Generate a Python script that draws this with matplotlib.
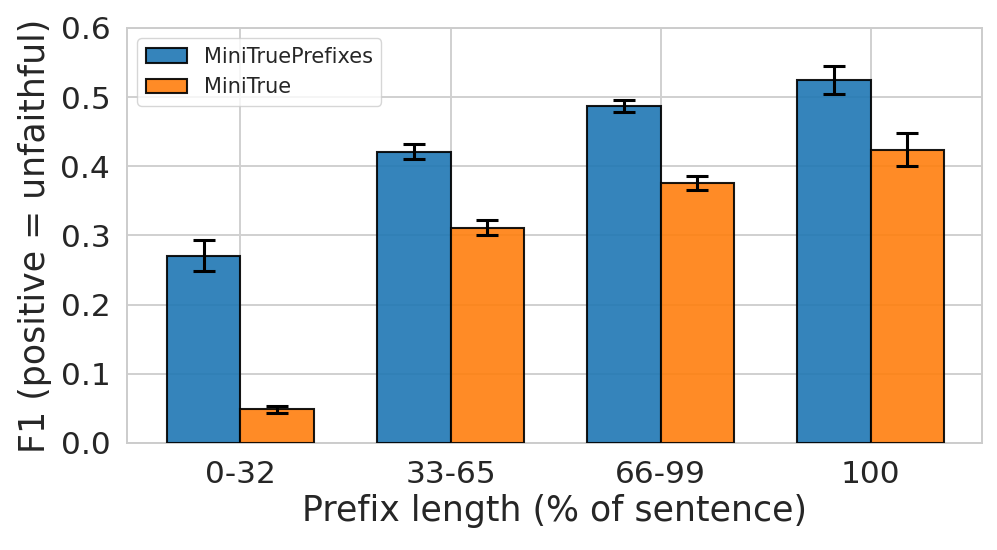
import matplotlib
matplotlib.use("Agg")
import matplotlib.pyplot as plt
import numpy as np
import seaborn as sns

sns.set_theme(style="whitegrid")
plt.rcParams['font.family'] = ['DejaVu Sans']

categories = ["0-32", "33-65", "66-99", "100"]
prefixes_vals = [0.271, 0.421, 0.487, 0.525]
prefixes_err = [0.022, 0.011, 0.009, 0.020]
minitrue_vals = [0.049, 0.311, 0.376, 0.424]
minitrue_err = [0.005, 0.011, 0.0095, 0.024]
series_names = ["MiniTruePrefixes", "MiniTrue"]
yticks = [0.0, 0.1, 0.2, 0.3, 0.4, 0.5, 0.6]

fig = plt.figure(figsize=(9.97, 5.5), dpi=100)
ax = fig.add_axes([127/997, 1-443/550, (982-127)/997, (443-28)/550])

x = np.arange(len(categories))
w = 0.35
ax.bar(x - w/2, prefixes_vals, w, yerr=prefixes_err, color="#1f77b4", alpha=0.9,
       edgecolor="black", linewidth=1.5, capsize=8,
       error_kw=dict(elinewidth=2.2, capthick=2.2, ecolor="black"), label=series_names[0], zorder=3)
ax.bar(x + w/2, minitrue_vals, w, yerr=minitrue_err, color="#ff7f0e", alpha=0.9,
       edgecolor="black", linewidth=1.5, capsize=8,
       error_kw=dict(elinewidth=2.2, capthick=2.2, ecolor="black"), label=series_names[1], zorder=3)

ax.set_xticks(x)
ax.set_xticklabels(categories, fontsize=22.5)
ax.set_yticks(yticks)
ax.set_yticklabels([f"{v:.1f}" for v in yticks], fontsize=22.5)
ax.set_ylim(0, 0.6)
ax.set_xlim(-0.54, 3.53)
ax.set_xlabel("Prefix length (% of sentence)", fontsize=25, labelpad=4)
ax.set_ylabel("F1 (positive = unfaithful)", fontsize=25, labelpad=6)
ax.grid(True, color="#d0d0d0", linewidth=1.4, zorder=0)
ax.set_axisbelow(True)
for s in ax.spines.values():
    s.set_color("#cccccc")
    s.set_linewidth(1.4)
ax.tick_params(axis='both', length=0, pad=12)
ax.legend(loc="upper left", fontsize=15, frameon=True, handlelength=2.0, handletextpad=0.8)

fig.savefig("out.png", dpi=100)
